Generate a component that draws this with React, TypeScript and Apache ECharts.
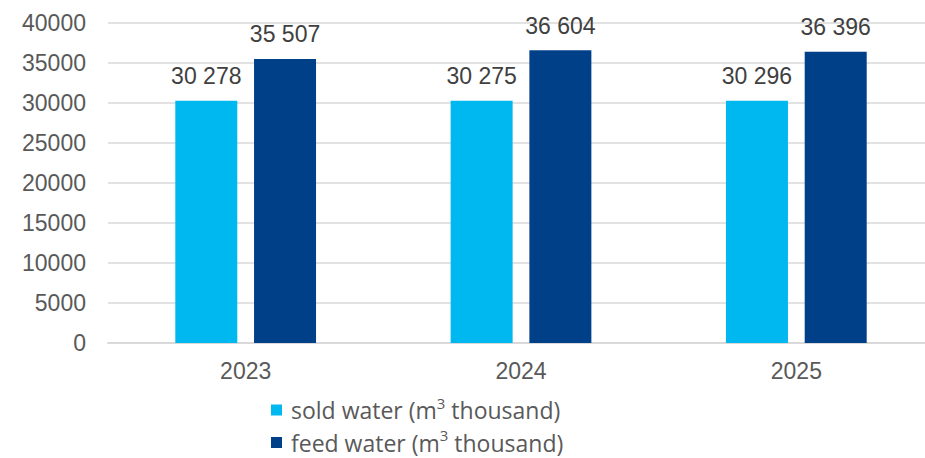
import React, { useEffect, useRef } from "react";
import * as echarts from "echarts";

const categories = ["2023", "2024", "2025"];
const soldWater = [30278, 30275, 30296];
const feedWater = [35507, 36604, 36396];
const seriesNames = ["sold water (m3 thousand)", "feed water (m3 thousand)"];
const yTicks = { min: 0, max: 40000, interval: 5000 };

const fmt = (v: number) => {
  const s = String(Math.round(v));
  return s.replace(/\B(?=(\d{3})+(?!\d))/g, " ");
};

export default function App() {
  const ref = useRef<HTMLDivElement>(null);
  useEffect(() => {
    if (!ref.current) return;
    const chart = echarts.init(ref.current, null, { renderer: "svg" });
    const labelStyle = {
      show: true,
      position: "top" as const,
      distance: 13,
      color: "#404040",
      fontFamily: "Liberation Sans, Arial, sans-serif",
      fontSize: 23,
      formatter: (p: any) => fmt(p.value),
    };
    chart.setOption({
      animation: false,
      grid: {
        left: 108,
        right: -9,
        top: 23,
        bottom: 115,
        containLabel: false,
        outerBoundsMode: "none",
      },
      legend: {
        orient: "vertical",
        left: 271,
        top: 395,
        height: 120,
        padding: 0,
        icon: "rect",
        itemWidth: 11,
        itemHeight: 11,
        itemGap: 6,
        selectedMode: false,
        data: seriesNames,
        formatter: (name: string) => {
          const i = name.indexOf("m3");
          return `{a|${name.slice(0, i + 1)}}{s|3}{a|${name.slice(i + 2)}}`;
        },
        textStyle: {
          padding: [0, 0, 0, 4],
          rich: {
            a: {
              color: "#595959",
              fontFamily: "Open Sans, Noto Sans, sans-serif",
              fontSize: 23,
              lineHeight: 30,
            },
            s: {
              color: "#595959",
              fontFamily: "Open Sans, Noto Sans, sans-serif",
              fontSize: 15,
              lineHeight: 22,
              verticalAlign: "top",
            },
          },
        },
      },
      xAxis: {
        type: "category",
        data: categories,
        axisTick: { show: false },
        axisLine: { lineStyle: { color: "#D9D9D9", width: 2 } },
        axisLabel: {
          margin: 16,
          color: "#595959",
          fontFamily: "Liberation Sans, Arial, sans-serif",
          fontSize: 23,
        },
      },
      yAxis: {
        type: "value",
        min: yTicks.min,
        max: yTicks.max,
        interval: yTicks.interval,
        axisLine: { show: false },
        axisTick: { show: false },
        splitLine: { lineStyle: { color: "#D9D9D9", width: 1.5 } },
        axisLabel: {
          margin: 22,
          color: "#595959",
          fontFamily: "Liberation Sans, Arial, sans-serif",
          fontSize: 23,
          formatter: (v: number) => String(v),
        },
      },
      series: [
        {
          name: seriesNames[0],
          type: "bar",
          data: soldWater,
          barWidth: 62,
          barGap: "27%",
          itemStyle: { color: "#00B8F0" },
          label: labelStyle,
        },
        {
          name: seriesNames[1],
          type: "bar",
          data: feedWater,
          barWidth: 62,
          barGap: "27%",
          itemStyle: { color: "#004088" },
          label: labelStyle,
        },
      ],
    });
    return () => chart.dispose();
  }, []);
  return (
    <div
      ref={ref}
      style={{ position: "absolute", left: 0, top: 0, width: 925, height: 458 }}
    />
  );
}
